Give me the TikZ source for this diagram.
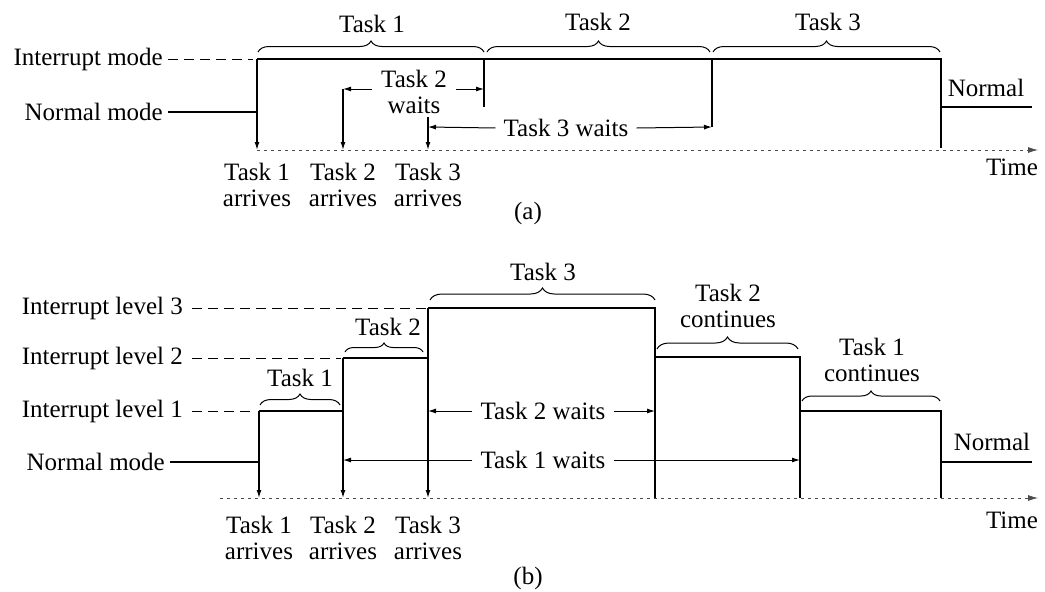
\documentclass[tikz,border=0pt]{standalone}
\usepackage{fontspec}
\setmainfont{Liberation Serif}
\usetikzlibrary{arrows.meta,decorations.pathreplacing}
\begin{document}
\begin{tikzpicture}[x=1pt,y=-1pt,
  lbl/.style={font=\fontsize{25}{26}\selectfont, inner sep=0pt, align=center},
  lvl/.style={lbl, anchor=east},
  sig/.style={line width=1.3pt},
  guide/.style={line width=1pt, dash pattern=on 10pt off 6pt},
  wait/.style={line width=1pt, -{Latex[length=8pt,width=5pt]}},
  arrive/.style={line width=1.3pt, -{Latex[length=8pt,width=5pt]}},
  timeaxis/.style={line width=0.8pt, black!70, dash pattern=on 3pt off 4pt, -{Latex[length=10pt,width=6pt]}},
  tbrace/.style={line width=1pt, decorate, decoration={brace, amplitude=#1}}]
\useasboundingbox (0,0) rectangle (1045,592);

% ================= (a) =================
\node[lvl] (imA) at (163,59) {Interrupt mode};
\node[lvl] (nmA) at (163,112) {Normal mode};
\coordinate (aD0) at (168,59);  \coordinate (aD1) at (253,59);
\coordinate (aN0) at (168,112); \coordinate (aN1) at (257,112);
\coordinate (aT1) at (257,59);  \coordinate (aT1b) at (257,150);
\coordinate (aE) at (941,59);   \coordinate (aEb) at (941,148);
\coordinate (aEn) at (941,107); \coordinate (aNe) at (1032,107);
\coordinate (aV2) at (484,59);  \coordinate (aV2b) at (484,107);
\coordinate (aV3) at (712,59);  \coordinate (aV3b) at (712,127);
\coordinate (aA2) at (343,89);  \coordinate (aA2b) at (343,150);
\coordinate (aA3) at (428,117); \coordinate (aA3b) at (428,150);
\coordinate (aX0) at (257,150); \coordinate (aX1) at (1038,150);
\coordinate (aW2t) at (484,89); \coordinate (aW3t) at (712,127);
\coordinate (aW3s) at (428,127);

\draw[guide] (aD0) -- (aD1);
\draw[sig] (aN0) -- (aN1);
\draw[sig] (aT1) -- (aE) -- (aEb);
\draw[sig] (aEn) -- (aNe);
\draw[sig] (aV2) -- (aV2b);
\draw[sig] (aV3) -- (aV3b);
\draw[arrive] (aT1) -- (aT1b);
\draw[arrive] (aA2) -- (aA2b);
\draw[arrive] (aA3) -- (aA3b);
\draw[timeaxis] (aX0) -- (aX1);

% braces (a)
\coordinate (aB1a) at (258,52); \coordinate (aB1b) at (484,52);
\coordinate (aB2a) at (487,52); \coordinate (aB2b) at (710,52);
\coordinate (aB3a) at (713,52); \coordinate (aB3b) at (940,52);
\draw[tbrace=11] (aB1a) -- (aB1b);
\draw[tbrace=11] (aB2a) -- (aB2b);
\draw[tbrace=11] (aB3a) -- (aB3b);
\node[lbl] (aL1) at (372,24) {Task 1};
\node[lbl] (aL2) at (598,22) {Task 2};
\node[lbl] (aL3) at (828,22) {Task 3};

% waits (a)
\node[lbl] (aTW2) at (414,92) {Task 2\\waits};
\coordinate (aW2l) at (372,89); \coordinate (aW2r) at (456,89);
\draw[wait] (aW2l) -- (aA2);
\draw[wait] (aW2r) -- (aW2t);
\node[lbl] (aTW3) at (566,128) {Task 3 waits};
\draw[wait] ([xshift=-8pt]aTW3.west) -- (aW3s);
\draw[wait] ([xshift=8pt]aTW3.east) -- (aW3t);

\node[lbl] (aNorm) at (986,88) {Normal};
\node[lbl] (aTime) at (1012,167) {Time};
\node[lbl] (aR1) at (257,185) {Task 1\\arrives};
\node[lbl] (aR2) at (343,185) {Task 2\\arrives};
\node[lbl] (aR3) at (428,185) {Task 3\\arrives};
\node[lbl] (capA) at (528,213) {(a)};

% ================= (b) =================
\node[lvl] (il3) at (183,308) {Interrupt level 3};
\node[lvl] (il2) at (183,358) {Interrupt level 2};
\node[lvl] (il1) at (183,411) {Interrupt level 1};
\node[lvl] (nmB) at (165,462) {Normal mode};

\coordinate (bD3a) at (192,308); \coordinate (bD3b) at (426,308);
\coordinate (bD2a) at (192,358); \coordinate (bD2b) at (341,358);
\coordinate (bD1a) at (192,411); \coordinate (bD1b) at (256,411);
\coordinate (bN0) at (170,462);  \coordinate (bN1) at (259,462);

\coordinate (b1t) at (259,411); \coordinate (b1b) at (259,498);
\coordinate (b2t) at (343,358); \coordinate (b2b) at (343,498);
\coordinate (b3t) at (428,308); \coordinate (b3b) at (428,498);
\coordinate (b4t) at (655,308); \coordinate (b4m) at (655,357); \coordinate (b4b) at (655,498);
\coordinate (b5t) at (800,357); \coordinate (b5m) at (800,411); \coordinate (b5b) at (800,498);
\coordinate (b6t) at (941,411); \coordinate (b6m) at (941,462); \coordinate (b6b) at (941,498);
\coordinate (bNe) at (1032,462);
\coordinate (bX0) at (220,498); \coordinate (bX1) at (1038,498);
\coordinate (b1r) at (343,411); \coordinate (b2r) at (428,358);

\draw[guide] (bD3a) -- (bD3b);
\draw[guide] (bD2a) -- (bD2b);
\draw[guide] (bD1a) -- (bD1b);
\draw[sig] (bN0) -- (bN1);
\draw[sig] (b1t) -- (b1r);
\draw[sig] (b2t) -- (b2r);
\draw[sig] (b3t) -- (b4t) -- (b4b);
\draw[sig] (b4m) -- (b5t) -- (b5b);
\draw[sig] (b5m) -- (b6t) -- (b6b);
\draw[sig] (b6m) -- (bNe);
\draw[arrive] (b1t) -- (b1b);
\draw[arrive] (b2t) -- (b2b);
\draw[arrive] (b3t) -- (b3b);
\draw[timeaxis] (bX0) -- (bX1);

% braces (b)
\coordinate (bB1a) at (260,405); \coordinate (bB1b) at (340,405);
\coordinate (bB2a) at (345,352); \coordinate (bB2b) at (423,352);
\coordinate (bB3a) at (430,300); \coordinate (bB3b) at (655,300);
\coordinate (bB4a) at (657,349); \coordinate (bB4b) at (798,349);
\coordinate (bB5a) at (802,401); \coordinate (bB5b) at (940,401);
\draw[tbrace=11] (bB1a) -- (bB1b);
\draw[tbrace=9]  (bB2a) -- (bB2b);
\draw[tbrace=12] (bB3a) -- (bB3b);
\draw[tbrace=12] (bB4a) -- (bB4b);
\draw[tbrace=10] (bB5a) -- (bB5b);
\node[lbl] (bL1) at (300,378) {Task 1};
\node[lbl] (bL2) at (388,327) {Task 2};
\node[lbl] (bL3) at (543,272) {Task 3};
\node[lbl] (bL4) at (728,306) {Task 2\\continues};
\node[lbl] (bL5) at (872,360) {Task 1\\continues};

% waits (b)
\node[lbl] (bTW2) at (543,411) {Task 2 waits};
\node[lbl] (bTW1) at (543,460) {Task 1 waits};
\coordinate (bW2s) at (428,411); \coordinate (bW2e) at (655,411);
\coordinate (bW1s) at (343,460); \coordinate (bW1e) at (800,460);
\draw[wait] ([xshift=-8pt]bTW2.west) -- (bW2s);
\draw[wait] ([xshift=8pt]bTW2.east) -- (bW2e);
\draw[wait] ([xshift=-8pt]bTW1.west) -- (bW1s);
\draw[wait] ([xshift=8pt]bTW1.east) -- (bW1e);

\node[lbl] (bNorm) at (992,442) {Normal};
\node[lbl] (bTime) at (1012,520) {Time};
\node[lbl] (bR1) at (259,538) {Task 1\\arrives};
\node[lbl] (bR2) at (343,538) {Task 2\\arrives};
\node[lbl] (bR3) at (428,538) {Task 3\\arrives};
\node[lbl] (capB) at (528,578) {(b)};
\end{tikzpicture}
\end{document}
